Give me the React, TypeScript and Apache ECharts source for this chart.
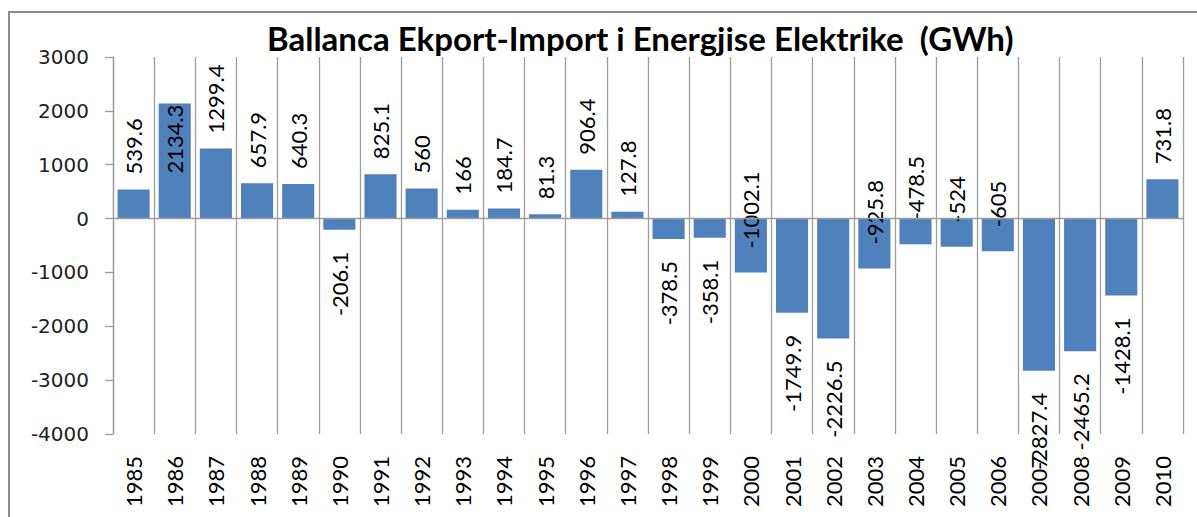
import { useEffect, useRef } from "react";
import * as echarts from "echarts";

const titleText = "Ballanca Ekport-Import i Energjise Elektrike  (GWh)";
const years = [
  "1985", "1986", "1987", "1988", "1989", "1990", "1991", "1992", "1993",
  "1994", "1995", "1996", "1997", "1998", "1999", "2000", "2001", "2002",
  "2003", "2004", "2005", "2006", "2007", "2008", "2009", "2010",
];
const balance = [
  539.6, 2134.3, 1299.4, 657.9, 640.3, -206.1, 825.1, 560, 166, 184.7, 81.3,
  906.4, 127.8, -378.5, -358.1, -1002.1, -1749.9, -2226.5, -925.8, -478.5,
  -524, -605, -2827.4, -2465.2, -1428.1, 731.8,
];
// "out" = label outside the bar end, "in" = label inside the bar end
const labelPlacement = [
  "out", "in", "out", "out", "out", "out", "out", "out", "out", "out", "out",
  "out", "out", "out", "out", "in", "out", "out", "in", "in", "in", "in",
  "out", "out", "out", "out",
];
const yTicks = { min: -4000, max: 3000, interval: 1000 };

function labelFor(value: number, placement: string) {
  const base = {
    show: true,
    rotate: 90,
    verticalAlign: "middle" as const,
    fontFamily: "Lato",
    fontSize: 22,
    color: "#000",
    formatter: String(value),
  };
  if (value >= 0) {
    if (placement === "in") {
      return { ...base, position: "insideTop" as const, align: "right" as const, distance: 1 };
    }
    return { ...base, position: "top" as const, align: "left" as const, distance: 15 };
  }
  if (placement === "in") {
    return { ...base, position: "insideBottom" as const, align: "left" as const, distance: 24 };
  }
  return { ...base, position: "bottom" as const, align: "right" as const, distance: 22 };
}

export default function App() {
  const ref = useRef<HTMLDivElement>(null);

  useEffect(() => {
    if (!ref.current) return;
    const chart = echarts.init(ref.current, null, { renderer: "svg" });
    const data = balance.map((v, i) => ({
      value: v,
      label: labelFor(v, labelPlacement[i]),
    }));
    chart.setOption({
      animation: false,
      backgroundColor: "#ffffff",
      title: {
        text: titleText,
        left: 262,
        top: 16,
        textStyle: {
          fontFamily: "Lato",
          fontWeight: "bold",
          fontSize: 33,
          color: "#000",
        },
      },
      graphic: [
        {
          type: "rect",
          shape: { x: 9, y: 12, width: 1300, height: 600 },
          style: { fill: "none", stroke: "#8c8c8c", lineWidth: 2 },
          silent: true,
          z: 100,
        },
      ],
      grid: { left: 113, right: 14, top: 57, bottom: 83, containLabel: false },
      xAxis: {
        type: "category",
        data: years,
        position: "bottom",
        axisLine: { show: false, onZero: false },
        axisTick: { show: false },
        splitLine: { show: true, lineStyle: { color: "#9e9e9e", width: 1.3 } },
        axisLabel: {
          rotate: 90,
          margin: 22,
          fontFamily: "Lato",
          fontSize: 22,
          color: "#000",
          interval: 0,
        },
      },
      yAxis: {
        type: "value",
        min: yTicks.min,
        max: yTicks.max,
        interval: yTicks.interval,
        axisLine: { show: true, lineStyle: { color: "#9e9e9e", width: 1.3 } },
        axisTick: { show: true, length: 8, lineStyle: { color: "#9e9e9e", width: 1.3 } },
        splitLine: { show: false },
        axisLabel: {
          margin: 24,
          fontFamily: "DejaVu Sans",
          fontSize: 20,
          color: "#222",
          formatter: (v: number) => String(v),
        },
      },
      series: [
        {
          type: "bar",
          data,
          barCategoryGap: "22%",
          itemStyle: { color: "#4f81bd" },
          labelLayout: { hideOverlap: false },
          markLine: {
            silent: true,
            symbol: ["none", "none"],
            label: { show: false },
            lineStyle: { color: "#9e9e9e", type: "solid", width: 1.3 },
            data: [{ yAxis: 0 }],
          },
        },
      ],
    });
    return () => chart.dispose();
  }, []);

  return (
    <div
      ref={ref}
      style={{ position: "absolute", left: 0, top: 0, width: 1197, height: 517 }}
    />
  );
}
